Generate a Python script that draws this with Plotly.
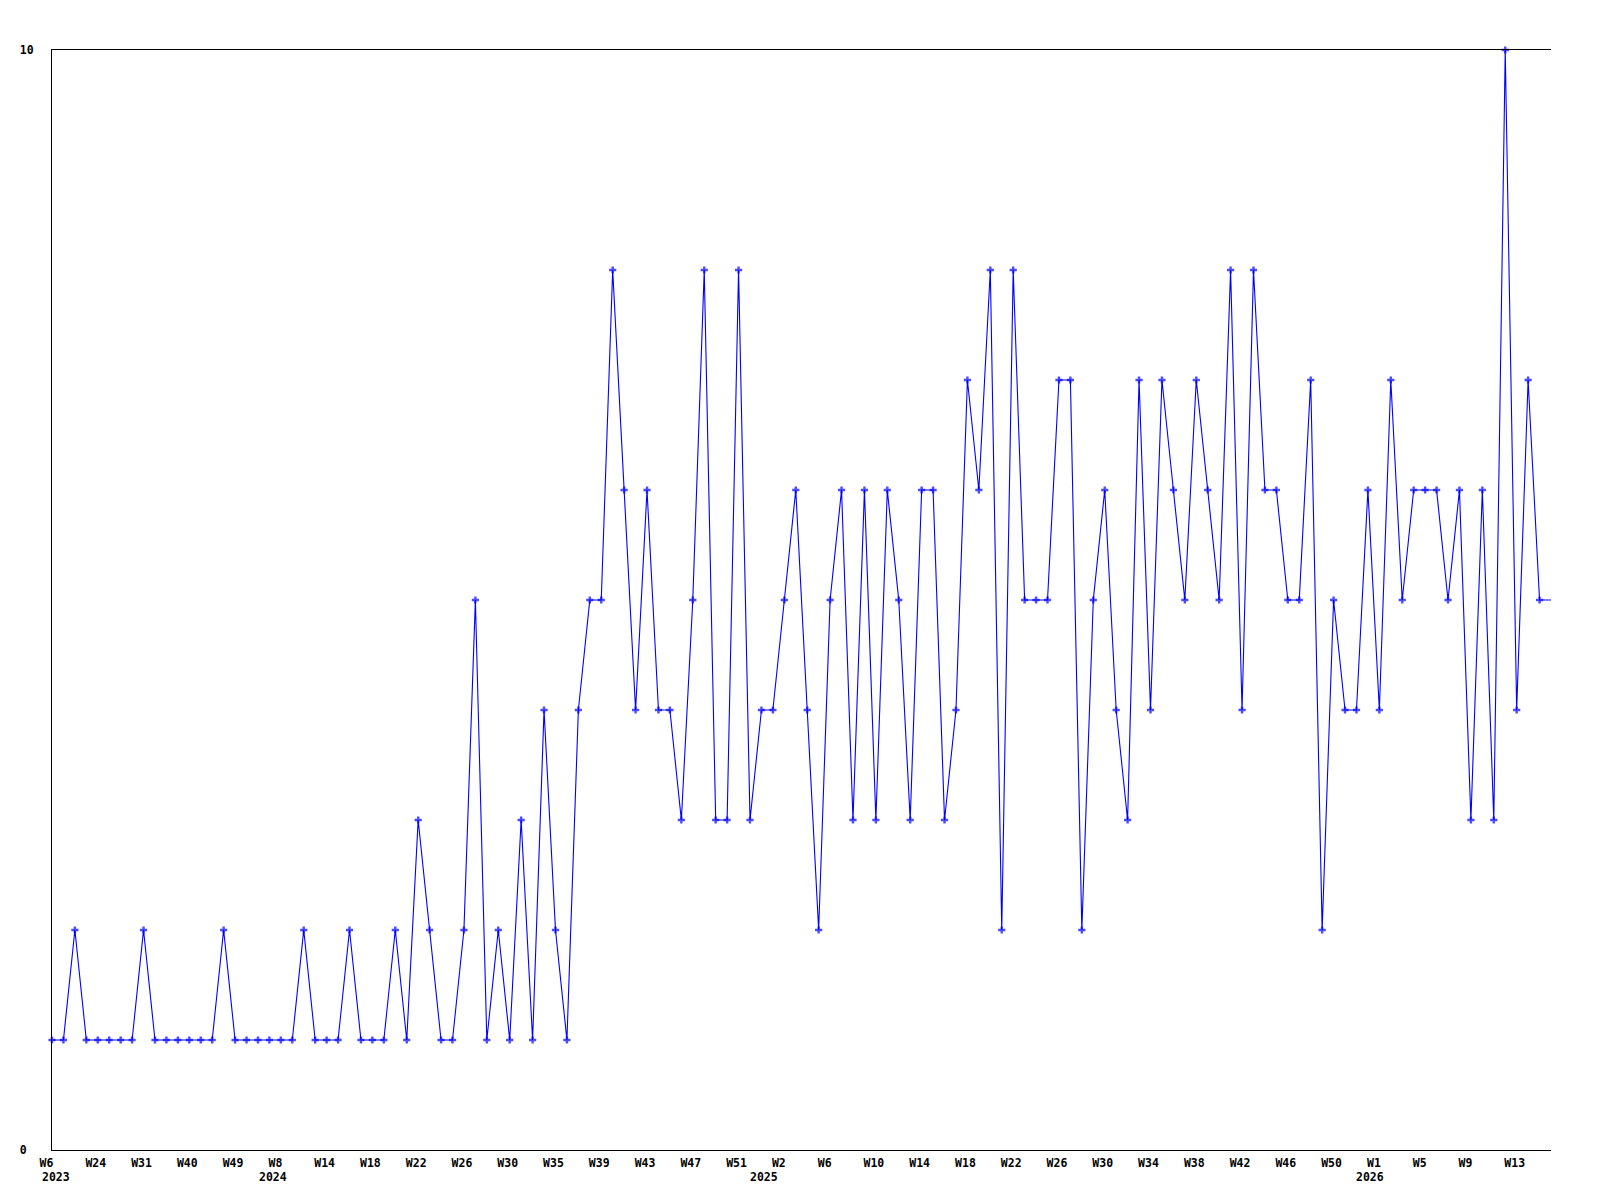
import plotly.graph_objects as go

# values per point (index 0..131)
values = [
    1, 1, 2, 1, 1, 1, 1, 1, 2, 1,
    1, 1, 1, 1, 1, 2, 1, 1, 1, 1,
    1, 1, 2, 1, 1, 1, 2, 1, 1, 1,
    2, 1, 3, 2, 1, 1, 2, 5, 1, 2,
    1, 3, 1, 4, 2, 1, 4, 5, 5, 8,
    6, 4, 6, 4, 4, 3, 5, 8, 3, 3,
    8, 3, 4, 4, 5, 6, 4, 2, 5, 6,
    3, 6, 3, 6, 5, 3, 6, 6, 3, 4,
    7, 6, 8, 2, 8, 5, 5, 5, 7, 7,
    2, 5, 6, 4, 3, 7, 4, 7, 6, 5,
    7, 6, 5, 8, 4, 8, 6, 6, 5, 5,
    7, 2, 5, 4, 4, 6, 4, 7, 5, 6,
    6, 6, 5, 6, 3, 6, 3, 10, 4, 7,
    5, 5,
]
x_index = list(range(len(values)))

# week tick labels, one every 4th point
week_labels = ["W6", "W24", "W31", "W40", "W49", "W8", "W14", "W18", "W22", "W26",
               "W30", "W35", "W39", "W43", "W47", "W51", "W2", "W6", "W10", "W14",
               "W18", "W22", "W26", "W30", "W34", "W38", "W42", "W46", "W50", "W1",
               "W5", "W9", "W13"]
week_ticks = list(range(0, 4 * len(week_labels), 4))

year_labels = ["2023", "2024", "2025", "2026"]
year_pos = [0.31, 19.27, 62.23, 115.22]

FONT = "DejaVu Sans Mono"
fsize = 11.5

marker_sizes = [6] * (len(values) - 1) + [0]

fig = go.Figure()
fig.add_trace(go.Scatter(
    x=x_index, y=values, mode="lines+markers",
    line=dict(color="#0000FF", width=1.1),
    marker=dict(symbol="cross", size=marker_sizes, color="#0000FF", line=dict(width=0)),
    cliponaxis=False, showlegend=False, hoverinfo="x+y",
))

def pad(t):
    return t + "\u00a0" if len(t) == 2 else t

fig.update_layout(
    width=1592, height=1192,
    margin=dict(l=42, r=49, t=42, b=50),
    paper_bgcolor="white", plot_bgcolor="white",
    font=dict(family=FONT, size=fsize, color="black"),
    xaxis=dict(
        range=[0, len(values) - 1],
        showgrid=False, zeroline=False,
        showline=True, linecolor="black", linewidth=1, mirror=True,
        tickmode="array", tickvals=week_ticks,
        ticktext=["<b>" + pad(t) + "</b>" for t in week_labels],
        ticks="", tickangle=0, ticklabelstandoff=2, ticklabelshift=-2,
        tickfont=dict(family=FONT, size=fsize, color="black"),
    ),
    yaxis=dict(
        range=[0, 10],
        showgrid=False, zeroline=False,
        showline=True, linecolor="black", linewidth=1, mirror=False,
        tickmode="array", tickvals=[0, 10], ticktext=["<b>0\u00a0</b>", "<b>10</b>"],
        ticks="", ticklabelstandoff=15,
        tickfont=dict(family=FONT, size=fsize, color="black"),
    ),
)

for t, p in zip(year_labels, year_pos):
    fig.add_annotation(
        x=p, y=0, xref="x", yref="paper", text="<b>" + t + "</b>",
        showarrow=False, xanchor="center", yanchor="middle", yshift=-27,
        font=dict(family=FONT, size=fsize, color="black"),
    )

fig.write_html("out.html")
